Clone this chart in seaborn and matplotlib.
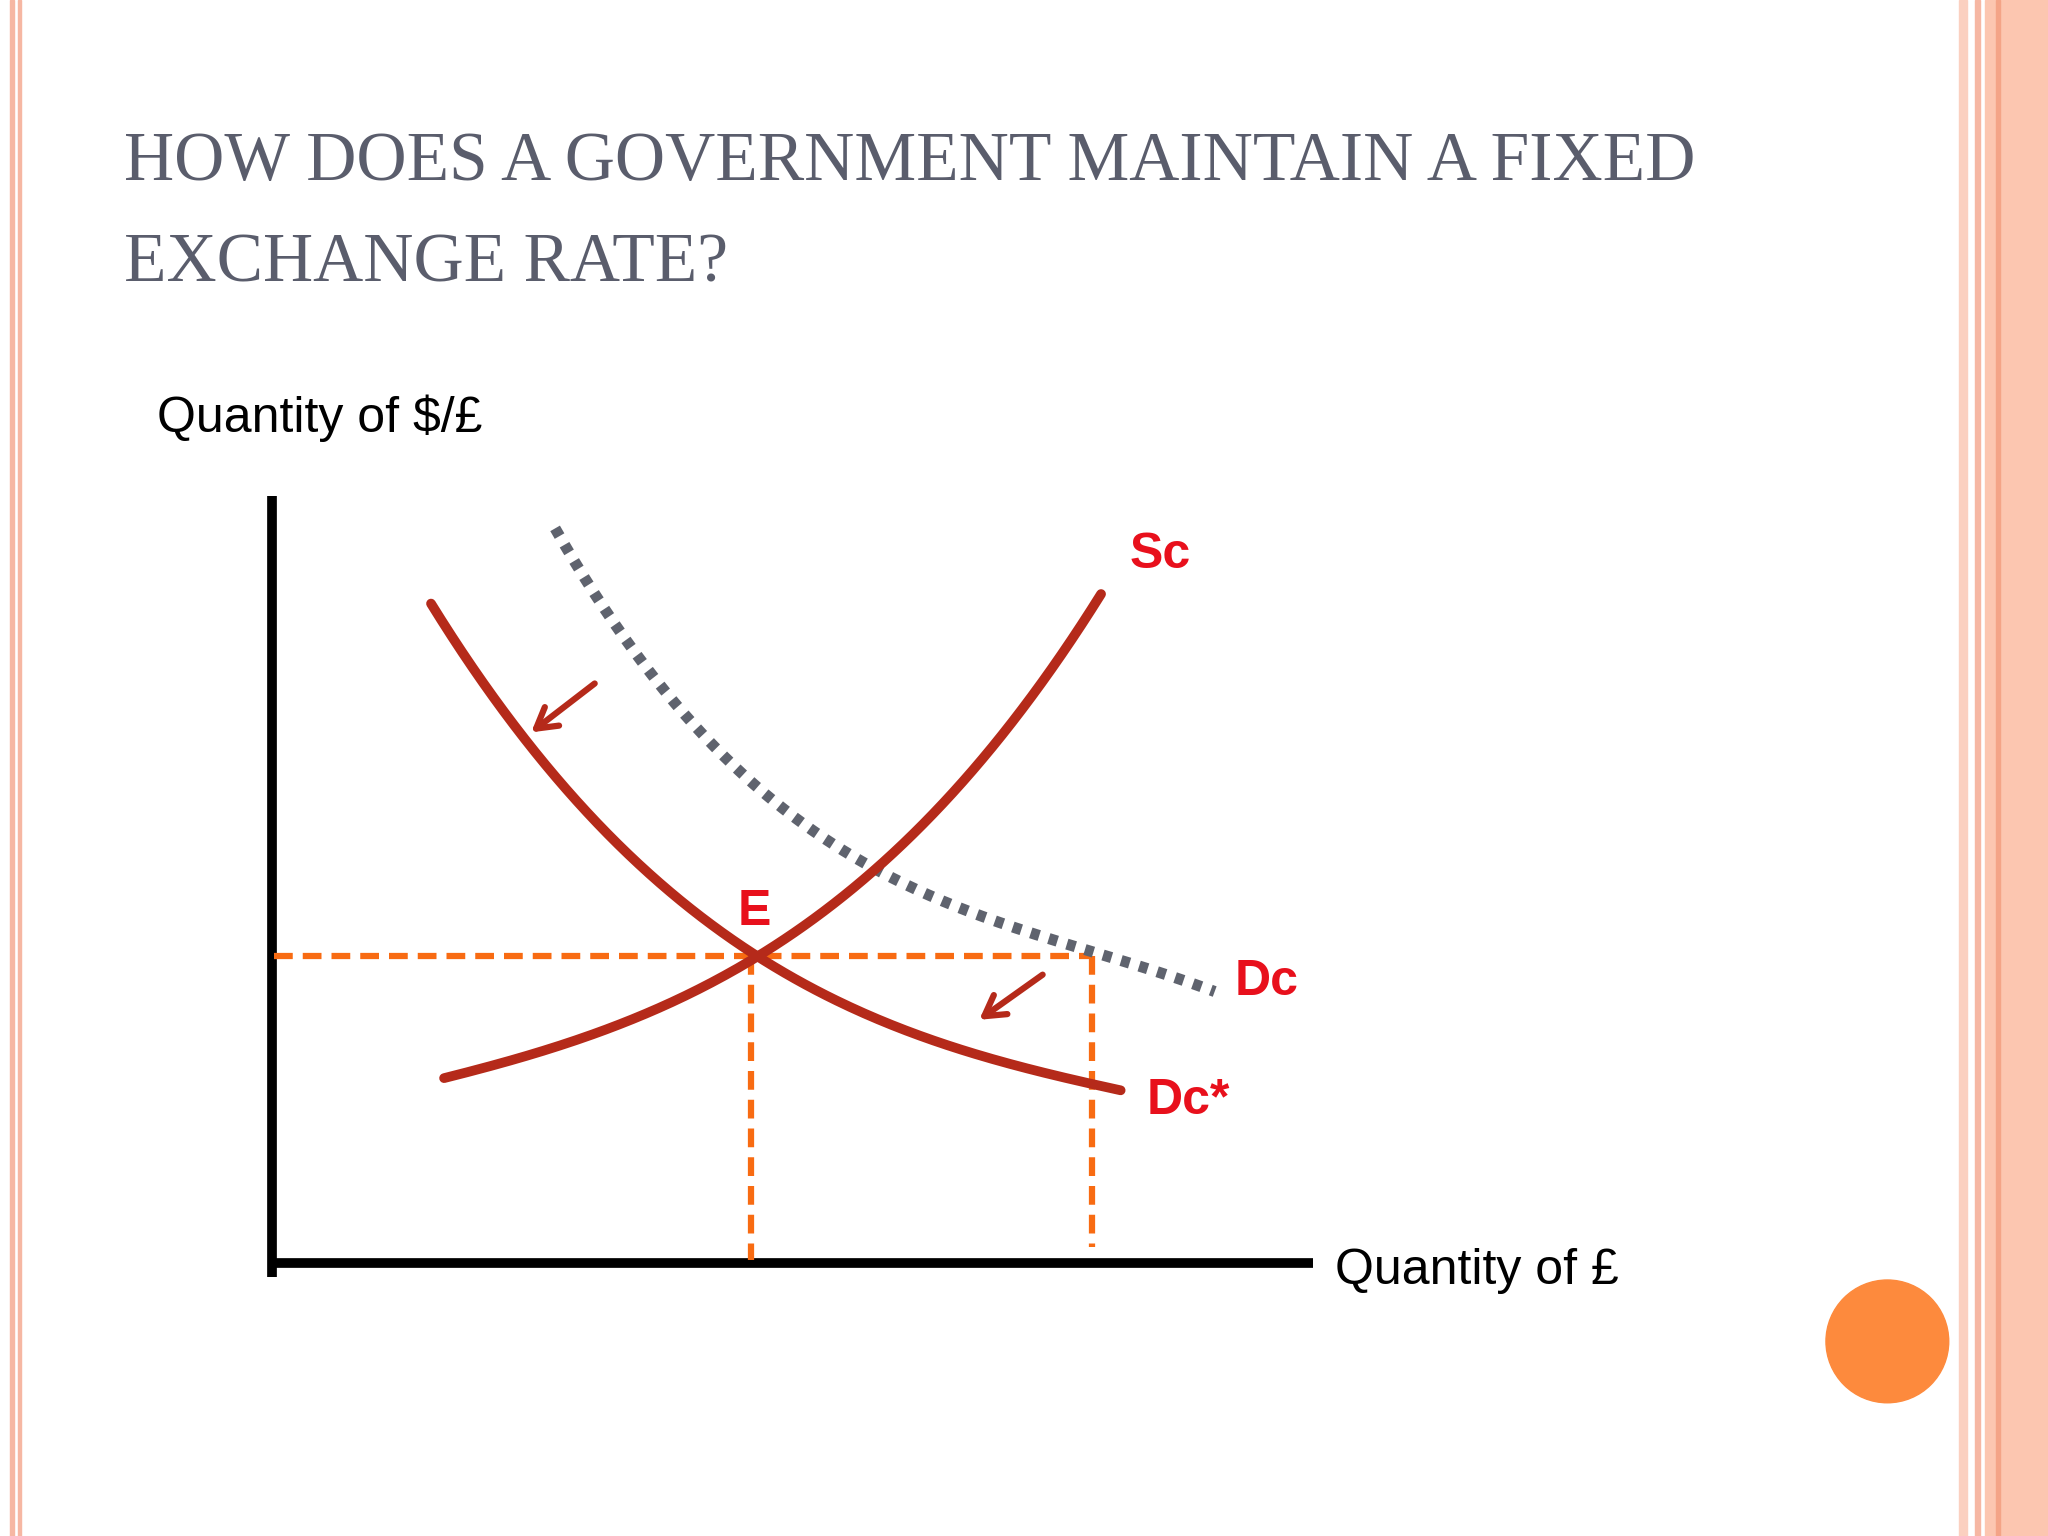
import numpy as np
import pandas as pd
import seaborn as sns
import matplotlib.pyplot as plt
from matplotlib.patches import Rectangle, Circle

sns.set_theme(style="white")
plt.rcParams['font.family'] = ['Liberation Sans', 'DejaVu Sans']

# Curve points (slide pixel coordinates, y down)
sc_x = [340, 450, 575, 680, 760, 843]
sc_y = [825, 795, 732, 660, 570, 455]
dcs_x = [330, 400, 470, 575, 700, 858]
dcs_y = [462, 565, 640, 732, 790, 835]
dc_x = [425, 460, 520, 600, 680, 760, 850, 930]
dc_y = [398, 470, 545, 615, 668, 705, 737, 757]
eq_x, eq_y = 575, 732
q2_x = 836

def smooth(xs, ys, deg=3, n=200):
    c = np.polyfit(xs, ys, deg)
    xx = np.linspace(xs[0], xs[-1], n)
    return pd.DataFrame({"x": xx, "y": np.polyval(c, xx)})

fig = plt.figure(figsize=(20.48, 15.36), dpi=100)
ax = fig.add_axes([0, 0, 1, 1])
ax.set_xlim(0, 1568); ax.set_ylim(1176, 0); ax.axis('off')

# slide decorations
ax.add_patch(Rectangle((8, 0), 3, 1176, color='#f6b7a3'))
ax.add_patch(Rectangle((14, 0), 2, 1176, color='#f6b7a3'))
ax.add_patch(Rectangle((1500, 0), 6, 1176, color='#fbd0c0'))
ax.add_patch(Rectangle((1512, 0), 4, 1176, color='#f6b7a3'))
ax.add_patch(Rectangle((1520, 0), 48, 1176, color='#fcc6b0'))
ax.add_patch(Rectangle((1528, 0), 3, 1176, color='#f4a487'))
ax.add_patch(Circle((1445, 1027), 47, color='#fd8a3d'))

ax.text(95, 125, "HOW DOES A GOVERNMENT MAINTAIN A FIXED", family='Liberation Serif',
        fontsize=50, color='#5a5d6c', va='center')
ax.text(95, 203, "EXCHANGE RATE?", family='Liberation Serif',
        fontsize=50, color='#5a5d6c', va='center')

# axes
ax.plot([208, 208], [380, 978], color='black', lw=7, solid_capstyle='butt')
ax.plot([205, 1005], [967, 967], color='black', lw=7, solid_capstyle='butt')
ax.text(120, 320, "Quantity of $/£", fontsize=36, color='black', va='center')
ax.text(1022, 973, "Quantity of £", fontsize=36, color='black', va='center')

# dashed guides
dash = dict(color='#f86b12', lw=4.5, ls=(0, (3, 1.6)))
ax.plot([210, q2_x], [eq_y, eq_y], **dash)
ax.plot([eq_x, eq_x], [eq_y, 965], **dash)
ax.plot([q2_x, q2_x], [eq_y, 955], **dash)

red = '#b52a1a'
sns.lineplot(data=smooth(dc_x, dc_y), x="x", y="y", ax=ax, color='#5f636e', lw=8,
             linestyle=(0, (0.8, 0.9)), sort=False)
sns.lineplot(data=smooth(sc_x, sc_y), x="x", y="y", ax=ax, color=red, lw=7, sort=False)
sns.lineplot(data=smooth(dcs_x, dcs_y), x="x", y="y", ax=ax, color=red, lw=7, sort=False)
ax.set_xlim(0, 1568); ax.set_ylim(1176, 0); ax.axis('off')

for (x0, y0, x1, y1) in [(457, 522, 405, 562), (800, 745, 748, 782)]:
    ax.annotate("", xy=(x1, y1), xytext=(x0, y0),
                arrowprops=dict(arrowstyle='->,head_length=1.2,head_width=0.7', color=red, lw=4.5))

lab = dict(fontsize=36, color='#e8101c', fontweight='bold', va='center')
ax.text(865, 425, "Sc", **lab)
ax.text(945, 752, "Dc", **lab)
ax.text(878, 843, "Dc*", **lab)
ax.text(565, 698, "E", **lab)

fig.savefig("out.png", dpi=100, facecolor='white')
